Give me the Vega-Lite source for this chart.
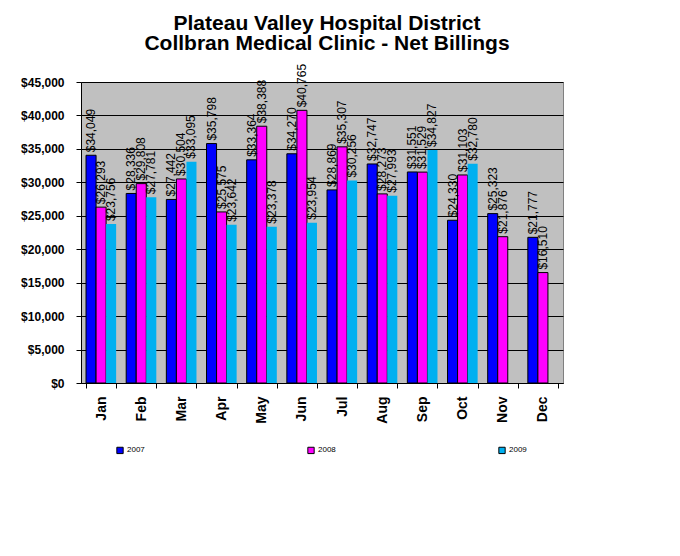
{
  "$schema": "https://vega.github.io/schema/vega-lite/v6.json",
  "width": 482,
  "height": 301,
  "autosize": {"type": "none"},
  "padding": {"left": 81, "top": 82, "right": 117, "bottom": 173},
  "background": "white",
  "title": {
    "text": ["Plateau Valley Hospital District", "Collbran Medical Clinic - Net Billings"],
    "font": "Liberation Sans",
    "fontSize": 21,
    "fontWeight": "bold",
    "color": "black",
    "anchor": "middle",
    "dx": 5,
    "offset": 10,
    "lineHeight": 20
  },
  "data": {
    "values": [
      {"month": "Jan", "year": "2007", "value": 34049},
      {"month": "Feb", "year": "2007", "value": 28336},
      {"month": "Mar", "year": "2007", "value": 27442},
      {"month": "Apr", "year": "2007", "value": 35798},
      {"month": "May", "year": "2007", "value": 33364},
      {"month": "Jun", "year": "2007", "value": 34270},
      {"month": "Jul", "year": "2007", "value": 28869},
      {"month": "Aug", "year": "2007", "value": 32747},
      {"month": "Sep", "year": "2007", "value": 31551},
      {"month": "Oct", "year": "2007", "value": 24330},
      {"month": "Nov", "year": "2007", "value": 25323},
      {"month": "Dec", "year": "2007", "value": 21777},
      {"month": "Jan", "year": "2008", "value": 26293},
      {"month": "Feb", "year": "2008", "value": 29808},
      {"month": "Mar", "year": "2008", "value": 30504},
      {"month": "Apr", "year": "2008", "value": 25575},
      {"month": "May", "year": "2008", "value": 38388},
      {"month": "Jun", "year": "2008", "value": 40765},
      {"month": "Jul", "year": "2008", "value": 35307},
      {"month": "Aug", "year": "2008", "value": 28273},
      {"month": "Sep", "year": "2008", "value": 31529},
      {"month": "Oct", "year": "2008", "value": 31103},
      {"month": "Nov", "year": "2008", "value": 21876},
      {"month": "Dec", "year": "2008", "value": 16510},
      {"month": "Jan", "year": "2009", "value": 23756},
      {"month": "Feb", "year": "2009", "value": 27781},
      {"month": "Mar", "year": "2009", "value": 33095},
      {"month": "Apr", "year": "2009", "value": 23642},
      {"month": "May", "year": "2009", "value": 23378},
      {"month": "Jun", "year": "2009", "value": 23954},
      {"month": "Jul", "year": "2009", "value": 30256},
      {"month": "Aug", "year": "2009", "value": 27993},
      {"month": "Sep", "year": "2009", "value": 34827},
      {"month": "Oct", "year": "2009", "value": 32780}
    ]
  },
  "encoding": {
    "x": {
      "field": "month",
      "type": "nominal",
      "sort": ["Jan","Feb","Mar","Apr","May","Jun","Jul","Aug","Sep","Oct","Nov","Dec"],
      "scale": {"paddingInner": 0.25, "paddingOuter": 0.125},
      "axis": {
        "title": null,
        "labelAngle": 270,
        "labelAlign": "right",
        "labelBaseline": "middle",
        "labelFont": "Liberation Sans",
        "labelFontSize": 14,
        "labelFontWeight": "bold",
        "labelColor": "black",
        "labelPadding": 8,
        "tickBand": "extent",
        "tickSize": 5,
        "tickColor": "black",
        "domainColor": "black",
        "grid": false
      }
    },
    "xOffset": {"field": "year", "type": "nominal", "scale": {"domain": ["2007","2008","2009"], "paddingInner": 0, "paddingOuter": 0}},
    "y": {
      "field": "value",
      "type": "quantitative",
      "scale": {"domain": [0, 45000], "nice": false},
      "axis": {
        "title": null,
        "values": [0,5000,10000,15000,20000,25000,30000,35000,40000,45000],
        "format": "$,.0f",
        "labelFont": "Liberation Sans",
        "labelFontSize": 12,
        "labelFontWeight": "bold",
        "labelColor": "black",
        "labelPadding": 12,
        "tickSize": 5,
        "tickColor": "black",
        "domainColor": "black",
        "gridColor": "black",
        "gridWidth": 1,
        "gridOpacity": 1
      }
    }
  },
  "layer": [
    {
      "mark": {"type": "bar", "stroke": "black"},
      "encoding": {
        "color": {
          "field": "year",
          "type": "nominal",
          "scale": {"domain": ["2007","2008","2009"], "range": ["#0000FF","#FF00FF","#00B0F0"]},
          "legend": {
            "title": null,
            "orient": "none",
            "direction": "horizontal",
            "columns": 3,
            "columnPadding": 160,
            "legendX": 35,
            "legendY": 364,
            "symbolType": "square",
            "symbolSize": 40,
            "symbolStrokeColor": "black",
            "symbolStrokeWidth": 1,
            "labelFont": "Liberation Sans",
            "labelFontSize": 8,
            "labelColor": "black",
            "labelOffset": 3
          }
        },
        "strokeWidth": {"condition": {"test": "datum.year !== '2009'", "value": 1}, "value": 0}
      }
    },
    {
      "mark": {"type": "text", "angle": 270, "align": "left", "baseline": "middle", "dx": 3, "font": "Liberation Sans", "fontSize": 12, "color": "black"},
      "encoding": {
        "text": {"field": "value", "type": "quantitative", "format": "$,.0f"}
      }
    }
  ],
  "config": {
    "view": {"fill": "#C0C0C0", "stroke": "#808080", "strokeWidth": 1},
    "axis": {"gridColor": "black"}
  }
}
